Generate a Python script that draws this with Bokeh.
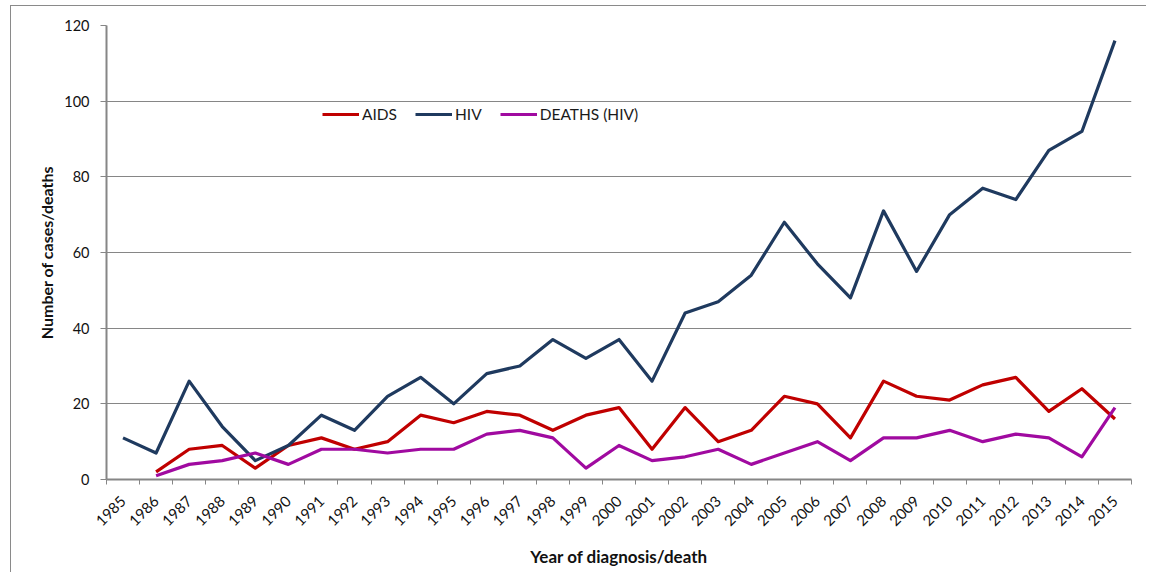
import math
from bokeh.plotting import figure
from bokeh.models import Range1d, FixedTicker, Legend, LegendItem
from bokeh.embed import file_html
from bokeh.resources import INLINE

nan = float("nan")

years = list(range(1985, 2016))
aids = [nan, 2, 8, 9, 3, 9, 11, 8, 10, 17, 15, 18, 17, 13, 17, 19, 8, 19, 10, 13,
        22, 20, 11, 26, 22, 21, 25, 27, 18, 24, 16]
hiv = [11, 7, 26, 14, 5, 9, 17, 13, 22, 27, 20, 28, 30, 37, 32, 37, 26, 44, 47, 54,
       68, 57, 48, 71, 55, 70, 77, 74, 87, 92, 116]
deaths = [nan, 1, 4, 5, 7, 4, 8, 8, 7, 8, 8, 12, 13, 11, 3, 9, 5, 6, 8, 4,
          7, 10, 5, 11, 11, 13, 10, 12, 11, 6, 19]
y_ticks = [0, 20, 40, 60, 80, 100, 120]
series_names = ["AIDS", "HIV", "DEATHS (HIV)"]
series_colors = ["#C00000", "#1F3A5F", "#A00AA0"]

FONT = "Lato"
GRAY = "#868686"
BORDER = "#8a8a8a"

p = figure(width=1146, height=572, output_backend="svg", toolbar_location=None,
           x_range=Range1d(years[0] - 0.5, years[-1] + 0.5),
           y_range=Range1d(y_ticks[0], y_ticks[-1]),
           min_border_left=106, min_border_right=15, min_border_top=25,
           min_border_bottom=93)
p.outline_line_color = None
p.background_fill_color = "white"
p.border_fill_color = None
# outer chart border (left and top edges; the rest falls outside the picture)
p.styles = {
    "background-color": "white",
    "background-image": f"linear-gradient({BORDER},{BORDER}), linear-gradient({BORDER},{BORDER})",
    "background-size": "1px 100%, 100% 1px",
    "background-position": "10px 5px, 10px 5px",
    "background-repeat": "no-repeat",
}

renderers = []
for vals, col in zip([aids, hiv, deaths], series_colors):
    r = p.line(years, vals, line_color=col, line_width=3.2, line_join="round")
    renderers.append(r)

legend = Legend(items=[LegendItem(label=n, renderers=[r]) for n, r in zip(series_names, renderers)],
                orientation="horizontal", location=(216, 355),
                glyph_width=37, glyph_height=20, label_standoff=3, spacing=18,
                padding=0, margin=0, border_line_alpha=0, background_fill_alpha=0,
                label_text_font=FONT, label_text_font_size="15.5px",
                label_text_color="#1a1a1a")
p.add_layout(legend)

p.xgrid.visible = False
p.ygrid.grid_line_color = GRAY
p.ygrid.grid_line_width = 1
p.ygrid.ticker = FixedTicker(ticks=y_ticks)

xa = p.xaxis[0]
xa.ticker = FixedTicker(ticks=years, minor_ticks=[y - 0.5 for y in years] + [years[-1] + 0.5])
xa.major_tick_out = 0
xa.major_tick_in = 0
xa.minor_tick_out = 5
xa.minor_tick_in = 0
xa.minor_tick_line_color = GRAY
xa.axis_line_color = GRAY
xa.axis_line_width = 2
xa.major_label_orientation = math.pi / 4
xa.major_label_standoff = 14
xa.major_label_text_font = FONT
xa.major_label_text_font_size = "15px"
xa.major_label_text_color = "#111111"
xa.axis_label = "Year of diagnosis/death"
xa.axis_label_text_font = FONT
xa.axis_label_text_font_size = "17px"
xa.axis_label_text_font_style = "bold"
xa.axis_label_text_color = "#111111"
xa.axis_label_standoff = 12

ya = p.yaxis[0]
ya.ticker = FixedTicker(ticks=y_ticks, minor_ticks=[])
ya.major_tick_out = 6
ya.major_tick_in = 0
ya.major_tick_line_color = GRAY
ya.axis_line_color = GRAY
ya.axis_line_width = 2
ya.major_label_standoff = 11
ya.major_label_text_font = FONT
ya.major_label_text_font_size = "14.5px"
ya.major_label_text_color = "#111111"
ya.axis_label = "Number of cases/deaths"
ya.axis_label_text_font = FONT
ya.axis_label_text_font_size = "16px"
ya.axis_label_text_font_style = "bold"
ya.axis_label_text_color = "#111111"
ya.axis_label_standoff = 5

open("out.html", "w").write(file_html(p, INLINE))
